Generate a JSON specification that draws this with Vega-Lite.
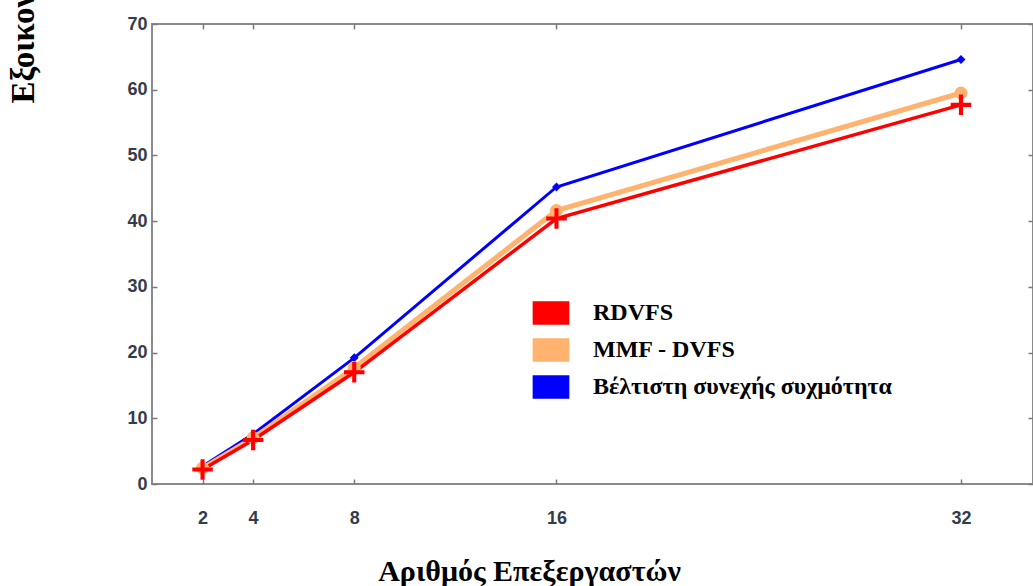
{
  "$schema": "https://vega.github.io/schema/vega-lite/v6.json",
  "width": 881,
  "height": 460,
  "autosize": {"type": "none"},
  "padding": {"left": 152, "top": 24, "right": 0, "bottom": 102},
  "background": "white",
  "config": {
    "view": {"stroke": "#8a8a8a", "strokeWidth": 2},
    "axis": {
      "grid": false,
      "domain": false,
      "tickColor": "#7a7a7a",
      "tickWidth": 1.5,
      "tickSize": -5,
      "labelFont": "Liberation Sans",
      "labelFontWeight": "bold",
      "labelFontSize": 18,
      "labelColor": "#353b48"
    }
  },
  "data": {
    "values": [
      {"p": 2, "s": "Βέλτιστη συνεχής συχμότητα", "v": 2.7},
      {"p": 4, "s": "Βέλτιστη συνεχής συχμότητα", "v": 7.6},
      {"p": 8, "s": "Βέλτιστη συνεχής συχμότητα", "v": 19.2},
      {"p": 16, "s": "Βέλτιστη συνεχής συχμότητα", "v": 45.2},
      {"p": 32, "s": "Βέλτιστη συνεχής συχμότητα", "v": 64.6},
      {"p": 2, "s": "MMF - DVFS", "v": 2.4},
      {"p": 4, "s": "MMF - DVFS", "v": 7.0},
      {"p": 8, "s": "MMF - DVFS", "v": 17.7},
      {"p": 16, "s": "MMF - DVFS", "v": 41.6},
      {"p": 32, "s": "MMF - DVFS", "v": 59.5},
      {"p": 2, "s": "RDVFS", "v": 2.2},
      {"p": 4, "s": "RDVFS", "v": 6.7},
      {"p": 8, "s": "RDVFS", "v": 17.0},
      {"p": 16, "s": "RDVFS", "v": 40.4},
      {"p": 32, "s": "RDVFS", "v": 57.7}
    ]
  },
  "resolve": {"axis": {"x": "independent", "y": "independent"}},
  "layer": [
    {
      "mark": {"type": "line", "opacity": 1},
      "encoding": {
        "x": {
          "field": "p", "type": "quantitative",
          "scale": {"domain": [0, 34.85], "nice": false, "zero": false},
          "axis": {
            "orient": "bottom",
            "values": [2, 4, 8, 16, 32],
            "labelPadding": 30,
            "title": "Αριθμός Επεξεργαστών",
            "titleFont": "Liberation Serif",
            "titleFontWeight": "bold",
            "titleFontSize": 30,
            "titleColor": "#000000",
            "titleBaseline": "alphabetic",
            "titleX": 377,
            "titleY": 96
          }
        },
        "y": {
          "field": "v", "type": "quantitative",
          "scale": {"domain": [0, 70], "nice": false},
          "axis": {
            "orient": "left",
            "values": [0, 10, 20, 30, 40, 50, 60, 70],
            "labelPadding": 10,
            "title": "Εξοικονόμηση ενέργειας (%)",
            "titleFont": "Liberation Serif",
            "titleFontWeight": "bold",
            "titleFontSize": 33,
            "titleColor": "#000000",
            "titleAngle": -90,
            "titleAlign": "left",
            "titleBaseline": "alphabetic",
            "titleX": -119,
            "titleY": 79
          }
        },
        "color": {
          "field": "s", "type": "nominal",
          "scale": {
            "domain": ["RDVFS", "MMF - DVFS", "Βέλτιστη συνεχής συχμότητα"],
            "range": ["#ff0000", "#ffb36e", "#0000ff"]
          },
          "legend": {
            "orient": "none",
            "legendX": 387,
            "legendY": 277,
            "title": null,
            "padding": 0,
            "symbolType": "M-1.6,-1H1.6V1H-1.6Z",
            "symbolSize": 484,
            "symbolOpacity": 1,
            "symbolStrokeWidth": 1.5,
            "labelFont": "Liberation Serif",
            "labelFontWeight": "bold",
            "labelFontSize": 24,
            "labelColor": "#000000",
            "labelOffset": 30,
            "rowPadding": 9,
            "labelLimit": 500,
            "encode": {
              "symbols": {
                "update": {
                  "shape": {"value": "M-1.6,-1H1.6V1H-1.6Z"},
                  "size": {"value": 484},
                  "fill": {"scale": "color", "field": "value"},
                  "strokeWidth": {"value": 1.5},
                  "stroke": {"signal": "datum.value === 'MMF - DVFS' ? '#6b5a4a' : 'transparent'"}
                }
              }
            }
          }
        },
        "strokeWidth": {
          "condition": [
            {"test": "datum.s === 'RDVFS'", "value": 3.5},
            {"test": "datum.s === 'MMF - DVFS'", "value": 5}
          ],
          "value": 3
        }
      }
    },
    {
      "mark": {"type": "point", "filled": true, "opacity": 1},
      "encoding": {
        "x": {"field": "p", "type": "quantitative", "axis": null},
        "y": {"field": "v", "type": "quantitative", "axis": null},
        "color": {"field": "s", "type": "nominal"},
        "shape": {
          "condition": [
            {"test": "datum.s === 'RDVFS'", "value": "M-1,-0.2H1V0.2H-1Z M-0.2,-1H0.2V1H-0.2Z"},
            {"test": "datum.s === 'MMF - DVFS'", "value": "circle"}
          ],
          "value": "diamond"
        },
        "size": {
          "condition": [
            {"test": "datum.s === 'RDVFS'", "value": 420},
            {"test": "datum.s === 'MMF - DVFS'", "value": 170}
          ],
          "value": 80
        }
      }
    },
    {
      "mark": {"type": "point", "opacity": 0},
      "encoding": {
        "x": {
          "field": "p", "type": "quantitative",
          "axis": {"orient": "top", "values": [2, 4, 8, 16, 32], "labels": false, "title": null}
        },
        "y": {
          "field": "v", "type": "quantitative",
          "axis": {"orient": "right", "values": [0, 10, 20, 30, 40, 50, 60, 70], "labels": false, "title": null}
        }
      }
    }
  ]
}
